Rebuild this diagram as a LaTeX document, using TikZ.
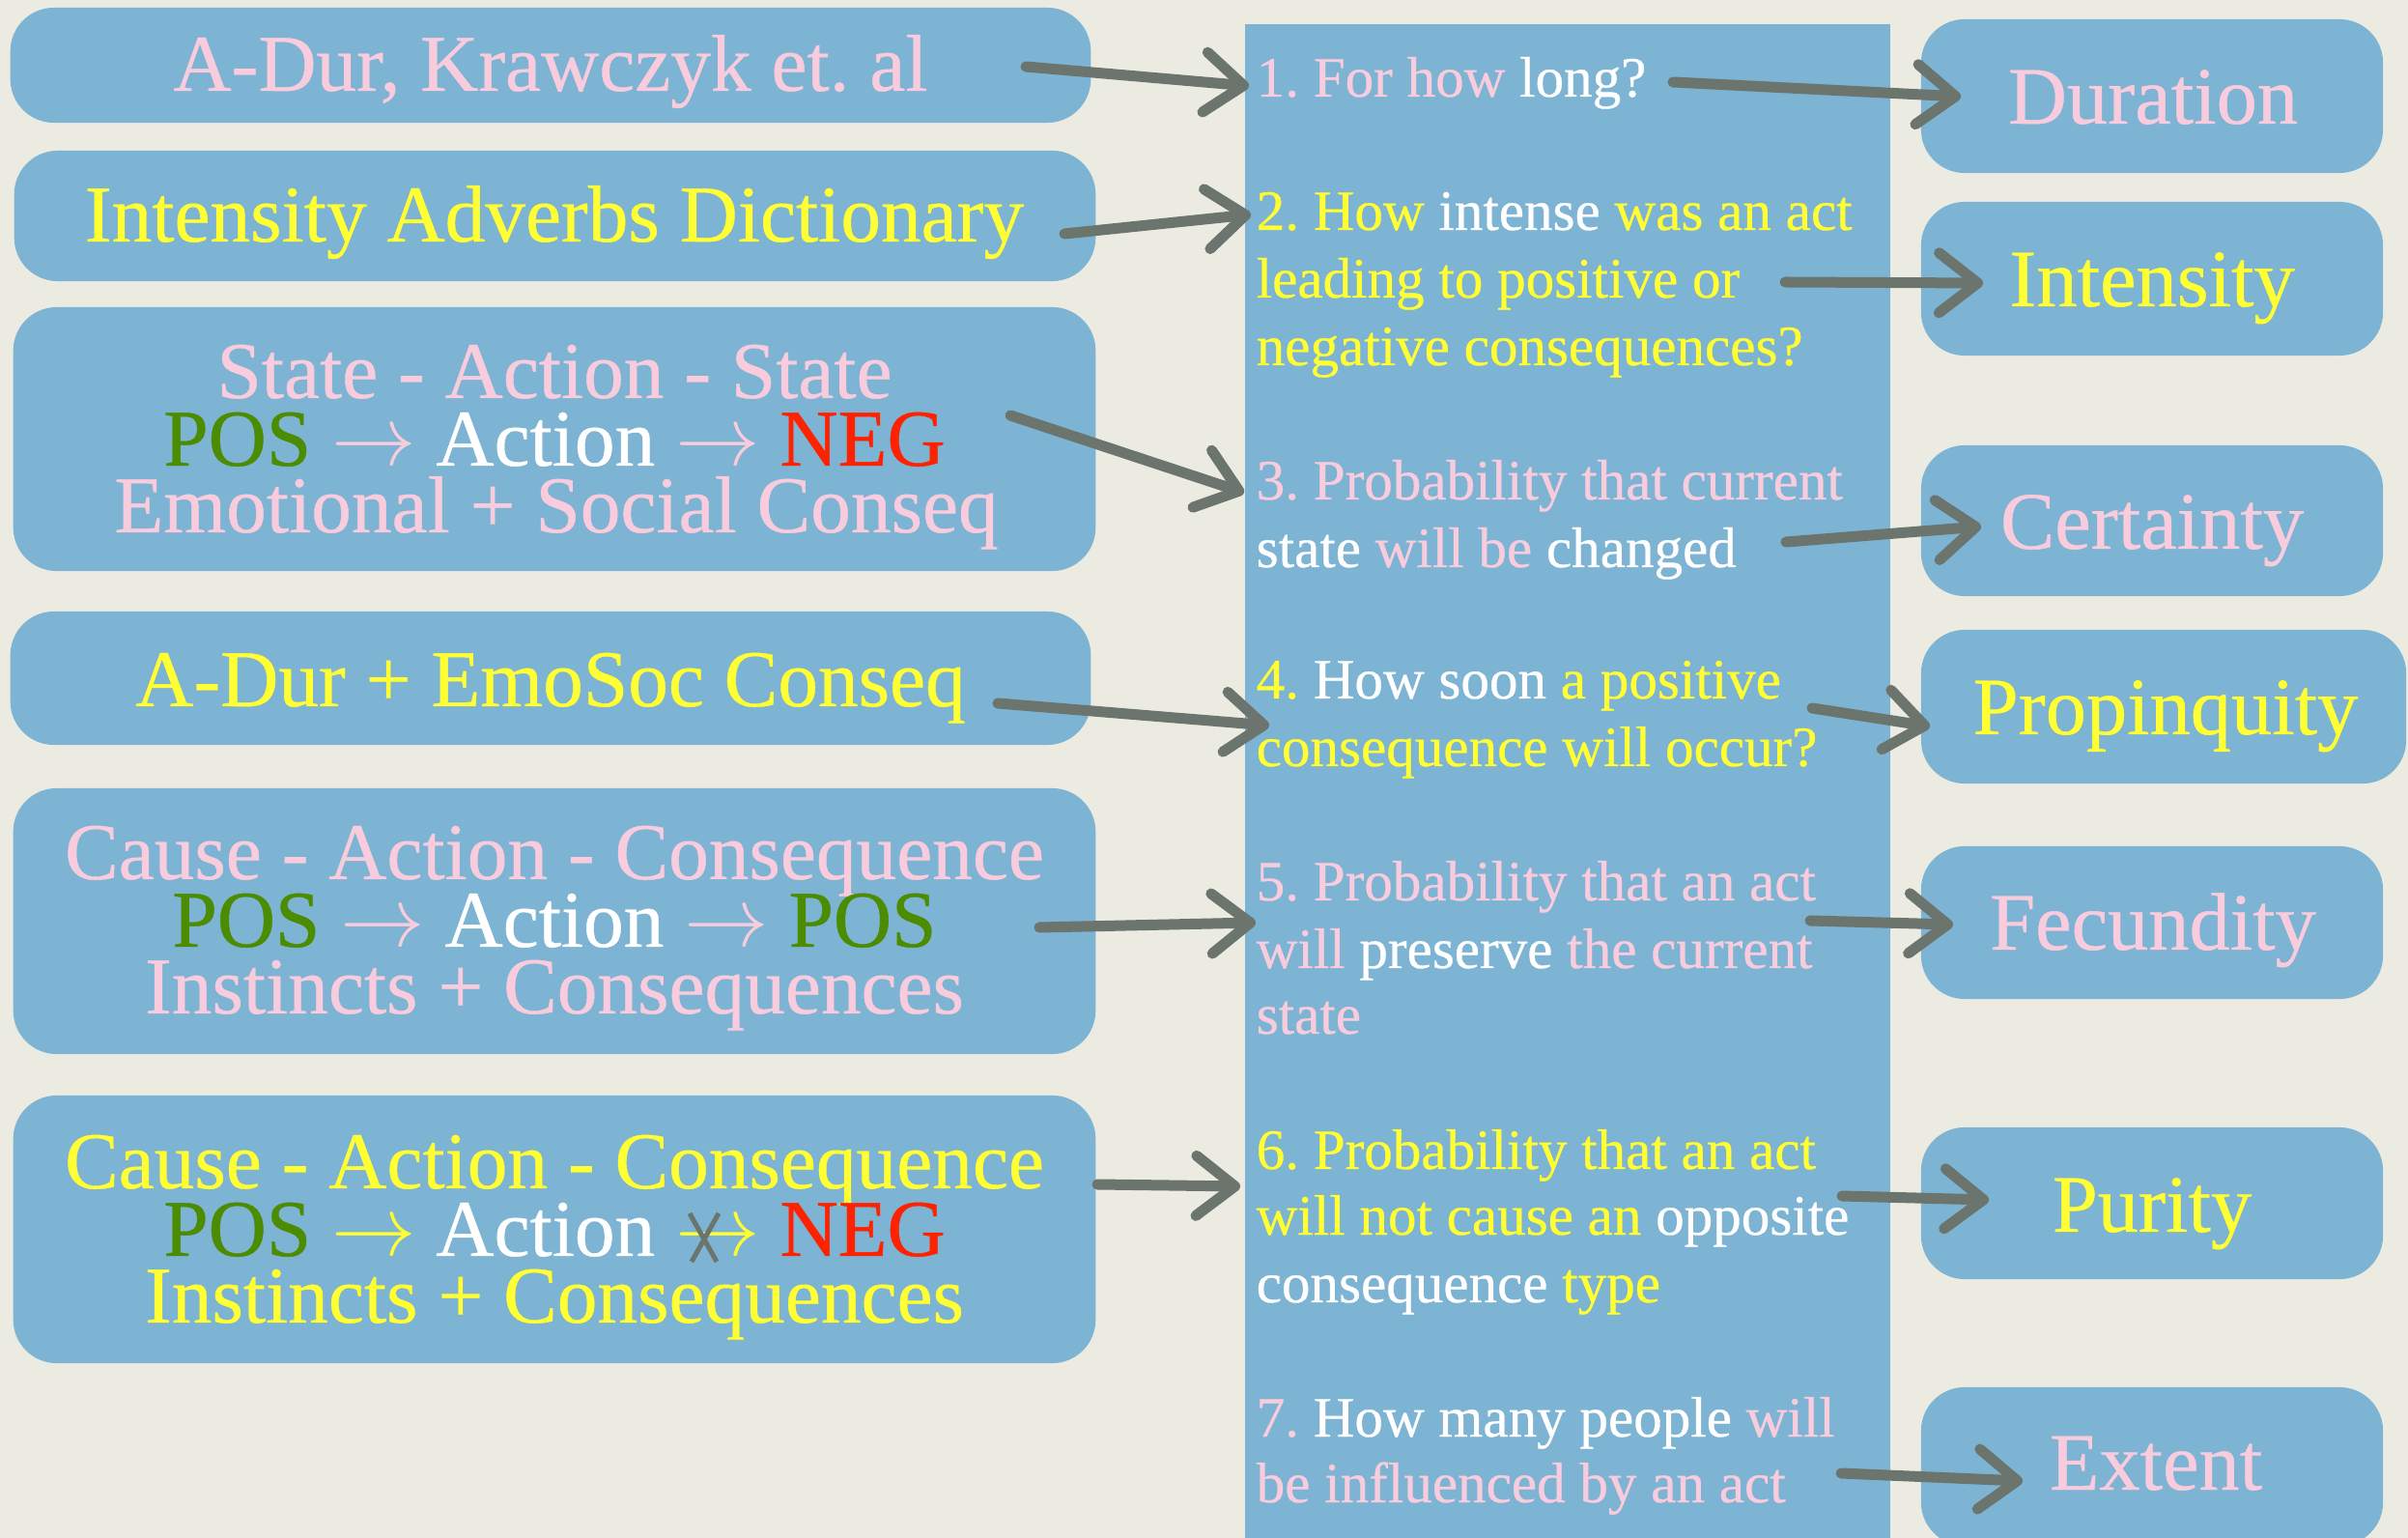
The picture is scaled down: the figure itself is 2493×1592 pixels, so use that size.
\documentclass[tikz,border=0pt]{standalone}
\usepackage{fontspec}
\setmainfont{Liberation Serif}[FakeBold=0.5]
\usetikzlibrary{arrows.meta}
\frenchspacing

\definecolor{paper}{HTML}{ECEBE1}
\definecolor{boxblue}{HTML}{7DB3D3}
\definecolor{tpink}{HTML}{F8CCDC}
\definecolor{tyellow}{HTML}{FFFF33}
\definecolor{tgreen}{HTML}{4C8C00}
\definecolor{tred}{HTML}{FF2200}
\definecolor{chalk}{HTML}{6B756D}

\newcommand\tpk[1]{\textcolor{tpink}{#1}}
\newcommand\tyl[1]{\textcolor{tyellow}{#1}}
\newcommand\twh[1]{\textcolor{white}{#1}}
\newcommand\tgr[1]{\textcolor{tgreen}{#1}}
\newcommand\trd[1]{\textcolor{tred}{#1}}
\newcommand\rarr{$\rightarrow$}

\tikzset{
  roundbox/.style={fill=boxblue, draw=none, rounded corners=0.45cm, inner sep=0pt},
  bigtext/.style={inner sep=0pt, anchor=base, font=\fontsize{23.7}{23.7}\selectfont},
  sidetext/.style={inner sep=0pt, anchor=base, font=\fontsize{24}{24}\selectfont},
  qtext/.style={inner sep=0pt, anchor=base west, font=\fontsize{16.8}{20}\selectfont},
  chalkarrow/.style={draw=chalk, line width=0.11cm, line cap=round,
    -{Straight Barb[round, length=0.40cm, width=0.62cm]}},
}

\begin{document}
\begin{tikzpicture}[x=0.01cm, y=-0.01cm]
\useasboundingbox (0,0) rectangle (2493,1592);
\fill[paper] (0,0) rectangle (2493,1592);
\clip (0,0) rectangle (2493,1592);

% source boxes on the left
\node[roundbox, minimum width=11.18cm, minimum height=1.19cm] (src1) at (570,67.5) {};
\node[roundbox, minimum width=11.19cm, minimum height=1.35cm] (src2) at (574.5,223.5) {};
\node[roundbox, minimum width=11.20cm, minimum height=2.73cm] (src3) at (574,454.5) {};
\node[roundbox, minimum width=11.18cm, minimum height=1.38cm] (src4) at (570,702) {};
\node[roundbox, minimum width=11.20cm, minimum height=2.75cm] (src5) at (574,953.5) {};
\node[roundbox, minimum width=11.20cm, minimum height=2.77cm] (src6) at (574,1272.5) {};

% column of questions
\node[fill=boxblue, draw=none, inner sep=0pt, minimum width=6.68cm, minimum height=15.67cm] (qcol) at (1623,808.5) {};

% dimension boxes on the right
\node[roundbox, minimum width=4.78cm, minimum height=1.59cm] (dur) at (2228,99.5) {};
\node[roundbox, minimum width=4.78cm, minimum height=1.59cm] (int) at (2228,288.5) {};
\node[roundbox, minimum width=4.78cm, minimum height=1.56cm] (cer) at (2228,539) {};
\node[roundbox, minimum width=5.02cm, minimum height=1.59cm] (pro) at (2240,731.5) {};
\node[roundbox, minimum width=4.78cm, minimum height=1.58cm] (fec) at (2228,955) {};
\node[roundbox, minimum width=4.78cm, minimum height=1.57cm] (pur) at (2228,1245.5) {};
\node[roundbox, minimum width=4.78cm, minimum height=1.64cm] (ext) at (2228,1518) {};

% texts of the source boxes
\node[bigtext] (s1) at (570,94) {\tpk{A-Dur, Krawczyk et. al}};
\node[bigtext] (s2) at (574,250) {\tyl{Intensity Adverbs Dictionary}};
\node[bigtext] (s3a) at (574,412) {\tpk{State - Action - State}};
\node[bigtext] (s3b) at (574,482) {\tgr{POS} \tpk{\rarr} \twh{Action} \tpk{\rarr} \trd{NEG}};
\node[bigtext] (s3c) at (576,551) {\tpk{Emotional + Social Conseq}};
\node[bigtext] (s4) at (570,731) {\tyl{A-Dur + EmoSoc Conseq}};
\node[bigtext] (s5a) at (574,910) {\tpk{Cause - Action - Consequence}};
\node[bigtext] (s5b) at (574,980) {\tgr{POS} \tpk{\rarr} \twh{Action} \tpk{\rarr} \tgr{POS}};
\node[bigtext] (s5c) at (574,1049) {\tpk{Instincts + Consequences}};
\node[bigtext] (s6a) at (574,1230) {\tyl{Cause - Action - Consequence}};
\node[bigtext] (s6b) at (574,1300) {\tgr{POS} \tyl{\rarr} \twh{Action} \tyl{\rarr} \trd{NEG}};
\node[bigtext] (s6c) at (574,1369) {\tyl{Instincts + Consequences}};
% the crossed-out arrow
\draw[chalk, line width=0.05cm] (714,1256) -- (742,1306);
\draw[chalk, line width=0.05cm] (744,1256) -- (716,1306);

% questions
\node[qtext] (q1) at (1300,100) {\tpk{1. For how} \twh{long?}};
\node[qtext] (q2a) at (1300,238) {\tyl{2. How} \twh{intense} \tyl{was an act}};
\node[qtext] (q2b) at (1300,308) {\tyl{leading to positive or}};
\node[qtext] (q2c) at (1300,378) {\tyl{negative consequences?}};
\node[qtext] (q3a) at (1300,517) {\tpk{3. Probability that current}};
\node[qtext] (q3b) at (1300,587) {\twh{state} \tpk{will be} \twh{changed}};
\node[qtext] (q4a) at (1300,723) {\tyl{4.} \twh{How soon} \tyl{a positive}};
\node[qtext] (q4b) at (1300,793) {\tyl{consequence will occur?}};
\node[qtext] (q5a) at (1300,932) {\tpk{5. Probability that an act}};
\node[qtext] (q5b) at (1300,1002) {\tpk{will} \twh{preserve} \tpk{the current}};
\node[qtext] (q5c) at (1300,1070) {\tpk{state}};
\node[qtext] (q6a) at (1300,1210) {\tyl{6. Probability that an act}};
\node[qtext] (q6b) at (1300,1278) {\tyl{will not cause an} \twh{opposite}};
\node[qtext] (q6c) at (1300,1348) {\twh{consequence} \tyl{type}};
\node[qtext] (q7a) at (1300,1487) {\tpk{7.} \twh{How many people} \tpk{will}};
\node[qtext] (q7b) at (1300,1555) {\tpk{be influenced by an act}};

% dimension names
\node[sidetext] (d1) at (2229,128) {\tpk{Duration}};
\node[sidetext] (d2) at (2228,317) {\tyl{Intensity}};
\node[sidetext] (d3) at (2228,568) {\tpk{Certainty}};
\node[sidetext] (d4) at (2242,760) {\tyl{Propinquity}};
\node[sidetext] (d5) at (2229,983) {\tpk{Fecundity}};
\node[sidetext] (d6) at (2228,1275) {\tyl{Purity}};
\node[sidetext] (d7) at (2232,1542) {\tpk{Extent}};

% arrow end points
\coordinate (a1s) at (1062,69);   \coordinate (a1e) at (1293,89);
\coordinate (a2s) at (1102,242);  \coordinate (a2e) at (1295,222);
\coordinate (a3s) at (1046,430);  \coordinate (a3e) at (1288,510);
\coordinate (a4s) at (1033,728);  \coordinate (a4e) at (1314,751);
\coordinate (a5s) at (1076,960);  \coordinate (a5e) at (1300,955);
\coordinate (a6s) at (1136,1226); \coordinate (a6e) at (1284,1228);
\coordinate (b1s) at (1732,85);   \coordinate (b1e) at (2030,100);
\coordinate (b2s) at (1848,292);  \coordinate (b2e) at (2053,293);
\coordinate (b3s) at (1849,561);  \coordinate (b3e) at (2051,545);
\coordinate (b4s) at (1876,733);  \coordinate (b4e) at (1998,752);
\coordinate (b5s) at (1874,953);  \coordinate (b5e) at (2022,957);
\coordinate (b6s) at (1907,1238); \coordinate (b6e) at (2059,1242);
\coordinate (b7s) at (1906,1525); \coordinate (b7e) at (2094,1533);

\foreach \p in {a1,a2,a3,a4,a5,a6,b1,b2,b3,b4,b5,b6,b7}
  \draw[chalkarrow] (\p s) -- (\p e);
\end{tikzpicture}
\end{document}
